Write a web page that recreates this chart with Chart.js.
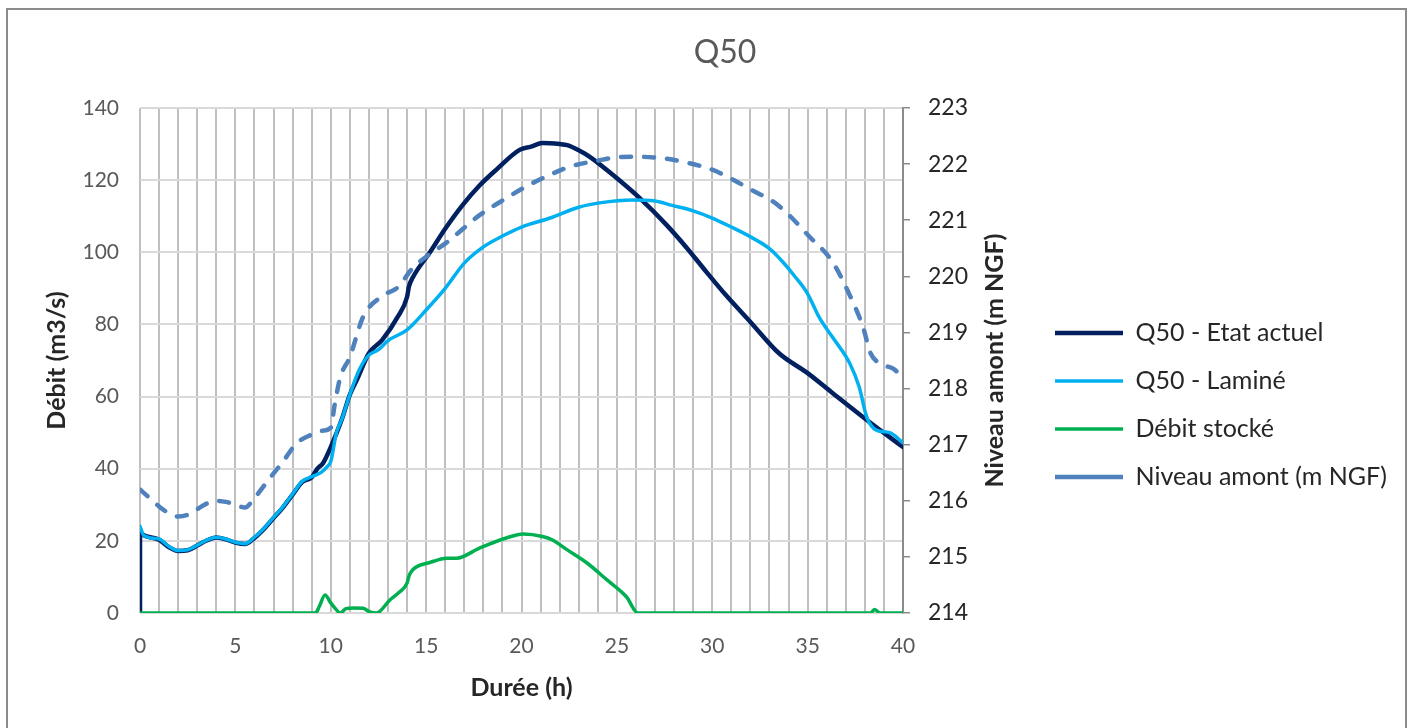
<!DOCTYPE html>
<html>
<head>
<meta charset="utf-8">
<script src="https://cdn.jsdelivr.net/npm/chart.js@4.4.1/dist/chart.umd.min.js"></script>
<style>
    body { margin: 0; background: #fff; }
    #wrap { position: relative; width: 1408px; height: 728px; }
    #frame { position: absolute; left: 6px; top: 8px; width: 1401px; height: 740px;
             box-sizing: border-box; border: 2px solid #8c8c8c; pointer-events: none; }
</style>
</head>
<body>
<div id="wrap">
    <canvas id="chart"></canvas>
    <div id="frame"></div>
</div>
<script>
// Q50 - Etat actuel (débit, m3/s)
const etatTime = [0, 0, 0.3, 1, 1.5, 2, 2.5, 3, 3.5, 4, 4.5, 5, 5.5, 6, 6.5, 7, 7.5, 8, 8.5, 9,
    9.3, 9.6, 10, 10.6, 11, 11.4, 12, 12.7, 13.5, 14, 14.1, 14.3, 15.2, 16, 16.9, 17.8, 18.7, 19.9, 20.5, 21.1,
    22, 22.4, 23, 23.6, 24.8, 26.2, 27.6, 28.7, 29.7, 30.7, 32, 33.5, 35, 36.3, 38.1, 40];
const etatFlow = [0, 22, 21.3, 20.3, 18.3, 17.2, 17.4, 18.7, 20.1, 20.9, 20.4, 19.5, 19.1, 20.8, 23.3, 26.3, 29.3, 32.8, 36.3, 37.6,
    40, 41.6, 46, 54, 60.5, 65, 72, 75.7, 82, 87.6, 90.5, 93, 100, 106.5, 113, 118.5, 123, 128.4, 129.3, 130.3,
    130, 129.7, 128.3, 126.4, 121.4, 115, 107.6, 101, 94.5, 88.2, 80.7, 72, 66.5, 61, 53.5, 46];

// Q50 - Laminé
const lamTime = [0, 0.2, 1, 1.5, 2, 2.5, 3, 3.5, 4, 4.5, 5, 5.5, 6, 6.5, 7, 7.5, 8, 8.5, 9, 9.5,
    9.8, 10, 10.3, 10.6, 11, 11.5, 12, 12.5, 13, 14, 15, 16, 17, 18, 19, 20, 21.5, 23, 24.1, 25.8,
    27, 27.9, 29, 30, 31, 32.1, 33, 33.7, 34.3, 35, 35.6, 36.3, 37.2, 37.7, 38.1, 38.6, 39.3, 40];
const lamFlow = [24, 21.5, 20.5, 18.5, 17.3, 17.5, 18.8, 20.2, 21, 20.5, 19.6, 19.2, 21, 23.5, 26.5, 29.5, 33, 36.5, 37.8, 39,
    40.5, 42, 50, 54, 60.5, 67.5, 71.5, 73, 75.5, 78.5, 84, 90, 97, 101.5, 104.5, 107, 109.5, 112.5, 113.7, 114.5,
    114.2, 113, 111.5, 109.5, 107, 104, 101, 97.3, 93.5, 88.5, 82, 76.5, 69.3, 62.7, 54.3, 50.7, 50, 47.2];

// Débit stocké
const stockTime = [0, 9.2, 9.4, 9.7, 10, 10.2, 10.5, 10.8, 11.2, 11.7, 12.05, 12.4, 13.1, 13.6, 14, 14.1, 14.3,
    15.2, 16.1, 16.6, 17.8, 19.2, 20.1, 21.1, 21.6, 22.4, 23.4, 24.5, 25.5, 26.1, 38.3, 38.5, 38.8, 40];
const stockFlow = [0, 0, 1.8, 5, 2.8, 1.5, 0, 1.2, 1.4, 1.3, 0.3, 0, 3.6, 5.8, 8.3, 10.2, 12,
    14, 15.2, 15.2, 18, 20.8, 21.9, 21.2, 20.3, 17.5, 14, 9.1, 4.5, 0, 0, 1, 0, 0];

// Niveau amont (m NGF), axe de droite
const niveauTime = [0, 0.5, 1, 1.5, 2, 2.5, 3, 3.5, 4, 4.5, 5, 5.5, 6, 6.8, 7.5, 8.2, 9, 9.6, 10, 10.2,
    10.5, 11, 11.7, 12.7, 13.5, 14.3, 15, 16.1, 17.8, 18.9, 20.4, 21.5, 22.5, 24.1, 25, 26.2, 27.5, 28.5, 30, 31.1,
    32, 33.2, 34, 35, 36.3, 37.2, 37.9, 38.3, 39, 39.5, 40];
const niveauLevel = [216.2, 216.05, 215.9, 215.78, 215.72, 215.75, 215.85, 215.95, 216.0, 215.98, 215.93, 215.88, 216.05, 216.4, 216.7, 217.02, 217.18, 217.25, 217.3, 217.7,
    218.2, 218.56, 219.28, 219.65, 219.8, 220.15, 220.35, 220.61, 221.09, 221.33, 221.63, 221.81, 221.95, 222.07, 222.12, 222.13, 222.1, 222.04, 221.9, 221.72,
    221.55, 221.33, 221.1, 220.74, 220.26, 219.67, 219.1, 218.63, 218.42, 218.35, 218.2];

const seriesNames = ["Q50 - Etat actuel", "Q50 - Laminé", "Débit stocké", "Niveau amont (m NGF)"];
const xTickStep = 5;

const FONT = "Lato";
const PLOT_LEFT = 140, PLOT_RIGHT = 903;

const pts = (xs, ys) => xs.map((x, i) => ({ x: x, y: ys[i] }));

// titre de l'axe droit, lu de bas en haut comme dans Excel
const rightTitle = {
    id: "rightTitle",
    afterDraw(chart) {
        const s = chart.scales.y2, a = chart.chartArea, ctx = chart.ctx;
        ctx.save();
        ctx.translate(s.left + 92, (a.top + a.bottom) / 2);
        ctx.rotate(-Math.PI / 2);
        ctx.font = "bold 25px " + FONT;
        ctx.fillStyle = "#262626";
        ctx.textAlign = "center";
        ctx.textBaseline = "middle";
        ctx.fillText("Niveau amont (m NGF)", 0, 0);
        ctx.restore();
    }
};

// place la légende comme dans l'original
const legendPlace = {
    id: "legendPlace",
    afterLayout(chart) {
        const lg = chart.legend;
        if (!lg || !lg.columnSizes) return;
        const pad = lg.options.labels.padding;
        const fs = lg.options.labels.font.size;
        const dx = 1055 - (lg.left + pad);
        const cy = (lg.top + pad + lg.bottom - lg.columnSizes[0].height) / 2 + fs / 2;
        const dy = 333 - cy;
        lg.left += dx; lg.right += dx;
        lg.top += dy; lg.bottom += dy;
    }
};

const ctx = document.getElementById("chart").getContext("2d");

const chart = new Chart(ctx, {
    type: "line",
    data: {
        datasets: [{
            label: seriesNames[0],
            data: pts(etatTime, etatFlow),
            yAxisID: "y",
            borderColor: "#002060",
            backgroundColor: "#002060",
            borderWidth: 4.5,
            order: 4
        }, {
            label: seriesNames[1],
            data: pts(lamTime, lamFlow),
            yAxisID: "y",
            borderColor: "#00B0F0",
            backgroundColor: "#00B0F0",
            borderWidth: 3.5,
            order: 3
        }, {
            label: seriesNames[2],
            data: pts(stockTime, stockFlow),
            yAxisID: "y",
            borderColor: "#00B050",
            backgroundColor: "#00B050",
            borderWidth: 3.5,
            order: 2
        }, {
            label: seriesNames[3],
            data: pts(niveauTime, niveauLevel),
            yAxisID: "y2",
            borderColor: "#4F81BD",
            backgroundColor: "#4F81BD",
            borderWidth: 4.5,
            borderDash: [10, 13],
            order: 1
        }]
    },
    options: {
        responsive: true,
        maintainAspectRatio: false,
        animation: false,
        layout: { padding: { left: 42, right: 0, top: 0, bottom: 25 } },
        elements: {
            point: { radius: 0 },
            line: { cubicInterpolationMode: "monotone", borderCapStyle: "round", borderJoinStyle: "round" }
        },
        scales: {
            x: {
                type: "linear",
                min: 0,
                max: 40,
                afterFit: s => { s.height = 90; },
                grid: { color: "#bfbfbf", lineWidth: 2, drawTicks: false },
                border: { display: false },
                ticks: {
                    stepSize: 1,
                    autoSkip: false,
                    maxRotation: 0,
                    padding: 21,
                    color: "#595959",
                    font: { family: FONT, size: 21 },
                    callback: v => (v % xTickStep === 0 ? String(v) : "")
                },
                title: {
                    display: true,
                    text: "Durée (h)",
                    color: "#262626",
                    font: { family: FONT, size: 25, weight: "bold" },
                    padding: { top: 4, bottom: 0 }
                }
            },
            y: {
                position: "left",
                min: 0,
                max: 140,
                afterFit: s => { s.width = PLOT_LEFT - 42; },
                grid: { color: "#d9d9d9", lineWidth: 2, drawTicks: false },
                border: { display: false },
                ticks: {
                    stepSize: 20,
                    padding: 21,
                    color: "#595959",
                    font: { family: FONT, size: 21 }
                },
                title: {
                    display: true,
                    text: "Débit (m3/s)",
                    color: "#262626",
                    font: { family: FONT, size: 25, weight: "bold" },
                    padding: { top: 0, bottom: 0 }
                }
            },
            y2: {
                position: "right",
                min: 214,
                max: 223,
                afterFit: s => { s.width = s.chart.width - s.chart.legend.width - PLOT_RIGHT; },
                grid: { drawOnChartArea: false, color: "#8c8c8c", lineWidth: 1.5, tickLength: 7 },
                border: { display: true, color: "#8c8c8c", width: 2 },
                ticks: {
                    stepSize: 1,
                    padding: 18,
                    color: "#262626",
                    font: { family: FONT, size: 23 }
                }
            }
        },
        plugins: {
            title: {
                display: true,
                text: "Q50",
                color: "#595959",
                font: { family: FONT, size: 32, weight: "normal" },
                padding: { top: 33, bottom: 36.6 }
            },
            legend: {
                position: "right",
                maxWidth: 420,
                labels: {
                    usePointStyle: true,
                    pointStyle: "line",
                    pointStyleWidth: 68,
                    padding: 23,
                    color: "#262626",
                    font: { family: FONT, size: 25 },
                    sort: (a, b) => a.datasetIndex - b.datasetIndex
                }
            },
            tooltip: { enabled: false }
        }
    },
    plugins: [rightTitle, legendPlace]
});
</script>
</body>
</html>
